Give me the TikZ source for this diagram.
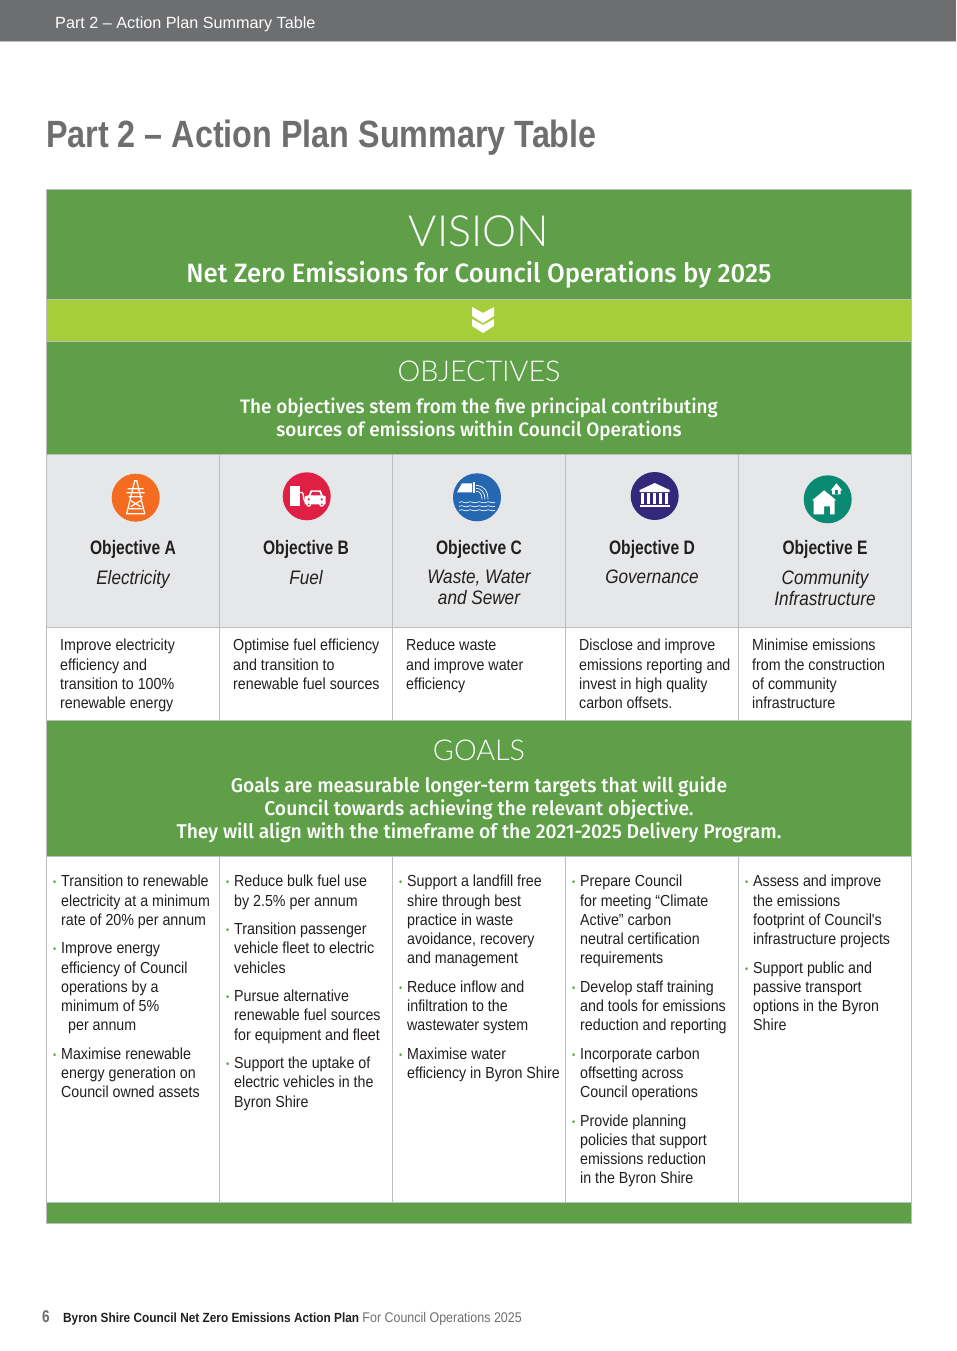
\documentclass[tikz,border=0pt]{standalone}
\usepackage{fontspec}
\usepackage{xcolor}
\setmainfont{Liberation Sans}
\newfontfamily\bodyfont[FakeStretch=0.89]{Liberation Sans}
\newfontfamily\midfont[FakeStretch=0.97]{Fira Sans Medium}
\newfontfamily\condfont[FakeStretch=0.80]{Liberation Sans}
\newfontfamily\titlefont[FakeStretch=0.85]{Liberation Sans}
\newfontfamily\subfont[FakeStretch=0.88]{Liberation Sans}
\newfontfamily\lightfont{Lato Light}
\definecolor{bandgreen}{HTML}{5E9F47}
\definecolor{limegreen}{HTML}{A6CE39}
\definecolor{cellgrey}{HTML}{E6E7E8}
\definecolor{rulegrey}{HTML}{BCBEC0}
\definecolor{slategrey}{HTML}{6D6E70}
\definecolor{inkblack}{HTML}{231F20}
\definecolor{iconorange}{HTML}{F36C21}
\definecolor{iconred}{HTML}{E01F45}
\definecolor{iconblue}{HTML}{2567B0}
\definecolor{iconpurple}{HTML}{33287A}
\definecolor{iconteal}{HTML}{0A8A72}
\newcommand{\gb}{\makebox[8pt][l]{\textcolor{bandgreen}{\raisebox{1pt}{\fontsize{10}{10}\selectfont\textbullet}}}}
\newcommand{\gi}{\hspace*{8pt}}
\tikzset{
  band/.style={draw=rulegrey,line width=0.6pt,fill=bandgreen,inner sep=0pt,outer sep=0pt,minimum width=865.5pt,anchor=north west},
  headtitle/.style={text=white,inner sep=0pt,font=\lightfont\fontsize{28.7}{31}\selectfont},
  headtext/.style={text=white,inner sep=0pt,align=center,font=\midfont\fontsize{19.5}{23.2}\selectfont},
  topcell/.style={draw=rulegrey,fill=cellgrey,line width=0.8pt,minimum width=173pt,minimum height=173pt,inner sep=0pt,outer sep=0pt,anchor=north west},
  midcell/.style={draw=rulegrey,fill=white,line width=0.8pt,minimum width=173pt,minimum height=93pt,inner sep=0pt,outer sep=0pt,anchor=north west},
  lowcell/.style={draw=rulegrey,fill=white,line width=0.8pt,minimum width=173pt,minimum height=346pt,inner sep=0pt,outer sep=0pt,anchor=north west},
  objname/.style={text=inkblack,inner sep=0pt,font=\condfont\bfseries\fontsize{19.5}{22}\selectfont},
  objsub/.style={text=inkblack,inner sep=0pt,align=center,font=\subfont\itshape\fontsize{19.5}{21}\selectfont},
  bodytext/.style={text=inkblack,inner sep=0pt,anchor=north west,align=left,font=\bodyfont\fontsize{16}{19.2}\selectfont},
  iconmark/.style={circle,inner sep=0pt,minimum size=48pt},
  iconline/.style={draw=white,line width=1.2pt},
}
\begin{document}
\begin{tikzpicture}[x=1pt,y=-1pt]
\useasboundingbox (0,0) rectangle (956,1351);
% page header
\node [fill=slategrey,inner sep=0pt,outer sep=0pt,minimum width=956pt,minimum height=41pt,anchor=north west] (topbar) at (0,0) {};
\fill [rulegrey] (0,41) rectangle (956,42.5);
\node [text=white,inner sep=0pt,anchor=base west,font=\fontsize{16.2}{18}\selectfont] (toptext) at (55,29) {Part 2 – Action Plan Summary Table};
\node [text=slategrey,inner sep=0pt,anchor=base west,font=\titlefont\bfseries\fontsize{38}{40}\selectfont] (title) at (46,148) {Part 2 – Action Plan Summary Table};
% bands
\node [band,minimum height=110pt] (vision) at (46,189) {};
\node [band,fill=limegreen,minimum height=42pt] (arrowband) at (46,299) {};
\node [band,minimum height=113pt] (objectives) at (46,341) {};
\node [band,minimum height=136pt] (goals) at (46,720) {};
\node [band,minimum height=21pt] (footband) at (46,1202) {};
\node [headtitle,font=\lightfont\fontsize{43}{47}\selectfont] (visiontitle) at (479,231) {VISION};
\node [headtext,font=\midfont\fontsize{26.5}{28}\selectfont] (visiontext) at (479,274.5) {Net Zero Emissions for Council Operations by 2025};
\node [headtitle] (objtitle) at (479,371) {OBJECTIVES};
\node [headtext] (objtext) at (479,419) {The objectives stem from the five principal contributing\\sources of emissions within Council Operations};
\node [headtitle] (goaltitle) at (479,750) {GOALS};
\node [headtext,font=\midfont\fontsize{19.9}{23.2}\selectfont] (goaltext) at (479,810) {Goals are measurable longer-term targets that will guide\\Council towards achieving the relevant objective.\\They will align with the timeframe of the 2021-2025 Delivery Program.};
\fill [white] (472,307) -- (483,313) -- (494,307) -- (494,316) -- (483,323) -- (472,316) -- cycle;
\fill [white] (472,319) -- (483,325) -- (494,319) -- (494,326) -- (483,333) -- (472,326) -- cycle;
% cells
\foreach \name/\xpos in {a/46,b/219,c/392,d/565,e/738} {
  \node [topcell] (top\name) at (\xpos,454) {};
  \node [midcell] (mid\name) at (\xpos,627) {};
  \node [lowcell] (low\name) at (\xpos,856) {};
}
% objective titles
\node [objname] (nameA) at (133,549) {Objective A};
\node [objname] (nameB) at (306,549) {Objective B};
\node [objname] (nameC) at (479,549) {Objective C};
\node [objname] (nameD) at (652,549) {Objective D};
\node [objname] (nameE) at (825,549) {Objective E};
\node [objsub,anchor=north] (subA) at (133,570) {Electricity};
\node [objsub,anchor=north] (subB) at (306,570) {Fuel};
\node [objsub,anchor=north] (subC) at (479,570) {Waste, Water\\and Sewer};
\node [objsub,anchor=north] (subD) at (652,570) {Governance};
\node [objsub,anchor=north] (subE) at (825,570) {Community\\Infrastructure};
% icon A, pylon
\node [iconmark,fill=iconorange] (iconA) at (135.7,497.7) {};
\begin{scope}[shift={(iconA)},iconline,x=1pt,y=-1pt]
\draw (-9,16) -- (-1,-17) -- (1,-17) -- (9,16) -- cycle;
\draw (-8,-9) -- (8,-9) (-9,-5) -- (9,-5) (-7,-1) -- (7,-1) (-7,11) -- (7,11) (-5,3) -- (5,9) (5,3) -- (-5,9);
\end{scope}
% icon B, fuel pump and car
\node [iconmark,fill=iconred] (iconB) at (306.7,496.3) {};
\begin{scope}[shift={(iconB)},x=1pt,y=-1pt]
\fill [white] (-17,-10) -- (-7,-10) -- (-7,10) -- (-17,10) -- cycle;
\draw [iconline] (-7,-4) .. controls (-2,-5) and (-4,0) .. (-3,2) .. controls (-3,5) and (-2,5) .. (0,5);
\fill [white] (-2,8) -- (-2,0) -- (2,-1) -- (4,-6) -- (14,-6) -- (16,-1) -- (19,0) -- (19,8) -- cycle;
\fill [iconred] (4,-1) -- (5.5,-4.5) -- (12.5,-4.5) -- (14,-1) -- cycle;
\fill [white] (2,8) circle (2.5pt) (15,8) circle (2.5pt);
\fill [iconred] (2,8) circle (1pt) (15,8) circle (1pt) (2,3) circle (1.2pt) (15,3) circle (1.2pt);
\end{scope}
% icon C, pipe and water
\node [iconmark,fill=iconblue] (iconC) at (477,497.3) {};
\begin{scope}[shift={(iconC)},x=1pt,y=-1pt]
\fill [white] (-20,-5) -- (-15,-14) -- (-5,-14) -- (-5,-5) -- cycle;
\fill [white] (-4,-15) rectangle (-2,-4);
\draw [iconline,line width=0.7pt] (-1,-12) .. controls (6,-12) and (11,-7) .. (11,2);
\draw [iconline,line width=0.7pt] (-1,-9) .. controls (4,-9) and (8,-5) .. (8,2);
\draw [iconline,line width=0.7pt] (-1,-6) .. controls (3,-6) and (5,-3) .. (5,2);
\foreach \ypos in {5,9,13} {
  \draw [iconline,line width=0.7pt] (-18,\ypos) .. controls (-14,\ypos-2) and (-12,\ypos+2) .. (-9,\ypos) .. controls (-6,\ypos-2) and (-3,\ypos+2) .. (0,\ypos) .. controls (3,\ypos-2) and (6,\ypos+2) .. (9,\ypos) .. controls (12,\ypos-2) and (15,\ypos+2) .. (18,\ypos);
}
\end{scope}
% icon D, building
\node [iconmark,fill=iconpurple] (iconD) at (654.7,496) {};
\begin{scope}[shift={(iconD)},x=1pt,y=-1pt]
\fill [white] (-15,-6) -- (0,-13) -- (15,-6) -- (15,-4) -- (-15,-4) -- cycle;
\fill [white] (-15,9) rectangle (15,11);
\foreach \xpos in {-12,-6,0,6,12} {
  \fill [white] (\xpos-1.3,-3) rectangle (\xpos+1.3,8);
}
\end{scope}
% icon E, houses
\node [iconmark,fill=iconteal] (iconE) at (827.7,499.3) {};
\begin{scope}[shift={(iconE)},x=1pt,y=-1pt]
\fill [white] (-15.5,1) -- (-3.5,-9) -- (8.5,1) -- (7,1) -- (7,15) -- (2.3,15) -- (2.3,7) -- (-3.5,7) -- (-3.5,15) -- (-14,15) -- (-14,1) -- cycle;
\fill [white] (3,-9) -- (8.7,-16) -- (14.5,-9) -- (13,-9) -- (13,-5) -- (4.5,-5) -- (4.5,-9) -- cycle;
\fill [iconteal] (7.5,-9) rectangle (10,-5);
\end{scope}
% objective text
\node [bodytext] (objA) at (60,639) {Improve electricity\\efficiency and\\transition to 100\%\\renewable energy};
\node [bodytext] (objB) at (233,639) {Optimise fuel efficiency\\and transition to\\renewable fuel sources};
\node [bodytext] (objC) at (406,639) {Reduce waste\\and improve water\\efficiency};
\node [bodytext] (objD) at (579,639) {Disclose and improve\\emissions reporting and\\invest in high quality\\carbon offsets.};
\node [bodytext] (objE) at (752,639) {Minimise emissions\\from the construction\\of community\\infrastructure};
% goals text
\node [bodytext] (goalA) at (53,875) {\gb Transition to renewable\\\gi electricity at a minimum\\\gi rate of 20\% per annum\\[9.4pt]%
\gb Improve energy\\\gi efficiency of Council\\\gi operations by a\\\gi minimum of 5\%\\\gi\hspace*{7pt}per annum\\[9.4pt]%
\gb Maximise renewable\\\gi energy generation on\\\gi Council owned assets};
\node [bodytext] (goalB) at (226,875) {\gb Reduce bulk fuel use\\\gi by 2.5\% per annum\\[9.4pt]%
\gb Transition passenger\\\gi vehicle fleet to electric\\\gi vehicles\\[9.4pt]%
\gb Pursue alternative\\\gi renewable fuel sources\\\gi for equipment  and fleet\\[9.4pt]%
\gb Support the uptake of\\\gi electric vehicles in the\\\gi Byron Shire};
\node [bodytext] (goalC) at (399,875) {\gb Support a landfill free\\\gi shire through best\\\gi practice in waste\\\gi avoidance, recovery\\\gi and management\\[9.4pt]%
\gb Reduce inflow and\\\gi infiltration to the\\\gi wastewater system\\[9.4pt]%
\gb Maximise water\\\gi efficiency in Byron Shire};
\node [bodytext] (goalD) at (572,875) {\gb Prepare Council\\\gi for meeting “Climate\\\gi Active” carbon\\\gi neutral certification\\\gi requirements\\[9.4pt]%
\gb Develop staff training\\\gi and tools for emissions\\\gi reduction and reporting\\[9.4pt]%
\gb Incorporate carbon\\\gi offsetting across\\\gi Council operations\\[9.4pt]%
\gb Provide planning\\\gi policies that support\\\gi emissions reduction\\\gi in the Byron Shire};
\node [bodytext] (goalE) at (745,875) {\gb Assess and improve\\\gi the emissions\\\gi footprint of Council's\\\gi infrastructure projects\\[9.4pt]%
\gb Support public and\\\gi passive transport\\\gi options in the Byron\\\gi Shire};
% page footer
\node [text=slategrey,inner sep=0pt,anchor=base west,font=\condfont\bfseries\fontsize{17}{18}\selectfont] (pagenum) at (42,1322) {6};
\node [text=inkblack,inner sep=0pt,anchor=base west,font=\bodyfont\fontsize{13.3}{14}\selectfont] (footer) at (63,1322) {\textbf{Byron Shire Council Net Zero Emissions Action Plan} \textcolor{slategrey}{\fontsize{14}{14}\selectfont For Council Operations 2025}};
\end{tikzpicture}
\end{document}
